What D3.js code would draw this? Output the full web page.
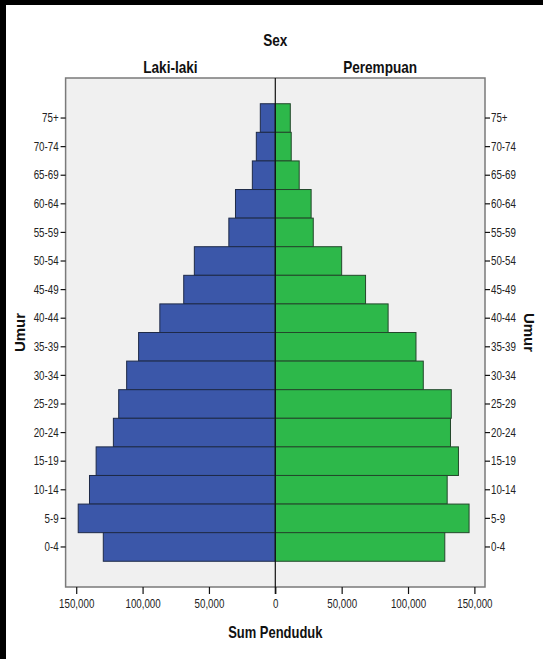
<!DOCTYPE html>
<html>
<head>
<meta charset="utf-8">
<script src="https://cdn.jsdelivr.net/npm/d3@7.9.0/dist/d3.min.js"></script>
<style>
  body { margin: 0; background: #fff; }
  svg { display: block; }
  text { font-family: "Liberation Sans", Arial, sans-serif; }
</style>
</head>
<body>
<div id="chart"></div>
<script>
// age groups, top to bottom
const ageGroups = ["75+", "70-74", "65-69", "60-64", "55-59", "50-54", "45-49", "40-44",
                   "35-39", "30-34", "25-29", "20-24", "15-19", "10-14", "5-9", "0-4"];
const lakiLaki = [11300, 14300, 17300, 30000, 35000, 61000, 69000, 87000,
                  103000, 112000, 118000, 122000, 135000, 140000, 148500, 129600];
const perempuan = [11300, 12000, 18000, 27000, 28600, 50000, 68000, 85000,
                   106000, 111500, 132600, 132000, 138000, 129500, 146000, 127700];
const xTicks = [-150000, -100000, -50000, 0, 50000, 100000, 150000];

const width = 543;
const height = 659;
const plot = { left: 65.6, right: 485, top: 78, bottom: 587 };

const svg = d3.select('#chart')
    .append('svg')
    .attr('width', width)
    .attr('height', height);

// the dark edge of the photographed screen
svg.append('rect').attr('x', 0).attr('y', 0).attr('width', width).attr('height', 5).attr('fill', '#000');
svg.append('rect').attr('x', 0).attr('y', 0).attr('width', 6).attr('height', height).attr('fill', '#000');

const xScale = d3.scaleLinear()
    .domain([-158000, 158000])
    .range([plot.left, plot.right]);
const yScale = d3.scaleBand()
    .domain(ageGroups)
    .range([plot.top, plot.bottom])
    .paddingInner(0)
    .paddingOuter(0.9);

// squeeze text sideways, the original uses a narrow face
function narrow(sel, s) {
    sel.each(function () {
        const t = d3.select(this);
        const x = +t.attr('x') || 0;
        const y = +t.attr('y') || 0;
        t.attr('x', 0).attr('y', 0)
            .attr('transform', `translate(${x},${y}) scale(${s},1)`);
    });
}

svg.append('rect')
    .attr('x', plot.left)
    .attr('y', plot.top)
    .attr('width', plot.right - plot.left)
    .attr('height', plot.bottom - plot.top)
    .attr('fill', '#f0f0f0')
    .attr('stroke', '#7a7a7a')
    .attr('stroke-width', 1.5);

const rows = ageGroups.map((g, i) => ({ group: g, male: lakiLaki[i], female: perempuan[i] }));

svg.append('g').selectAll('rect')
    .data(rows)
    .join('rect')
    .attr('x', d => xScale(-d.male))
    .attr('y', d => yScale(d.group))
    .attr('width', d => xScale(0) - xScale(-d.male))
    .attr('height', yScale.bandwidth())
    .attr('fill', '#3b57a9')
    .attr('stroke', '#1e2a48')
    .attr('stroke-width', 1);

svg.append('g').selectAll('rect')
    .data(rows)
    .join('rect')
    .attr('x', xScale(0))
    .attr('y', d => yScale(d.group))
    .attr('width', d => xScale(d.female) - xScale(0))
    .attr('height', yScale.bandwidth())
    .attr('fill', '#2db84a')
    .attr('stroke', '#23482b')
    .attr('stroke-width', 1);

// zero line
svg.append('line')
    .attr('x1', xScale(0)).attr('x2', xScale(0))
    .attr('y1', plot.top).attr('y2', plot.bottom + 7)
    .attr('stroke', '#111')
    .attr('stroke-width', 1.2);

// bottom axis
const xAxis = svg.append('g')
    .attr('transform', `translate(0,${plot.bottom})`)
    .call(d3.axisBottom(xScale)
        .tickValues(xTicks)
        .tickSize(7)
        .tickPadding(5)
        .tickFormat(d => d3.format(',')(Math.abs(d))));
xAxis.select('.domain').remove();
xAxis.selectAll('line').attr('stroke', '#111').attr('stroke-width', 1.2);
xAxis.selectAll('text').attr('font-size', 13).attr('fill', '#222')
    .style('font-family', '"Liberation Sans", Arial, sans-serif')
    .call(narrow, 0.75);

// left axis
const yLeft = svg.append('g')
    .attr('transform', `translate(${plot.left},0)`)
    .call(d3.axisLeft(yScale).tickSize(5).tickPadding(2));
yLeft.select('.domain').remove();
yLeft.selectAll('line').attr('stroke', '#111').attr('stroke-width', 1.2);
yLeft.selectAll('text').attr('font-size', 13).attr('fill', '#222')
    .style('font-family', '"Liberation Sans", Arial, sans-serif')
    .call(narrow, 0.75);

// right axis
const yRight = svg.append('g')
    .attr('transform', `translate(${plot.right},0)`)
    .call(d3.axisRight(yScale).tickSize(5).tickPadding(1));
yRight.select('.domain').remove();
yRight.selectAll('line').attr('stroke', '#111').attr('stroke-width', 1.2);
yRight.selectAll('text').attr('font-size', 13).attr('fill', '#222')
    .style('font-family', '"Liberation Sans", Arial, sans-serif')
    .call(narrow, 0.75);

// titles
function title(x, y, size, s, label) {
    svg.append('text')
        .attr('x', x).attr('y', y)
        .attr('text-anchor', 'middle')
        .attr('font-size', size).attr('font-weight', 'bold').attr('fill', '#111')
        .text(label)
        .call(narrow, s);
}
title(xScale(0), 46, 17, 0.8, 'Sex');
title((plot.left + xScale(0)) / 2, 73, 16, 0.85, 'Laki-laki');
title((plot.right + xScale(0)) / 2, 73, 16, 0.85, 'Perempuan');
title(xScale(0), 638, 16, 0.81, 'Sum Penduduk');

svg.append('text')
    .attr('transform', `translate(25,${(plot.top + plot.bottom) / 2}) rotate(-90)`)
    .attr('text-anchor', 'middle')
    .attr('font-size', 15).attr('font-weight', 'bold').attr('fill', '#111')
    .text('Umur');
svg.append('text')
    .attr('transform', `translate(524,${(plot.top + plot.bottom) / 2}) rotate(90)`)
    .attr('text-anchor', 'middle')
    .attr('font-size', 15).attr('font-weight', 'bold').attr('fill', '#111')
    .text('Umur');
</script>
</body>
</html>
